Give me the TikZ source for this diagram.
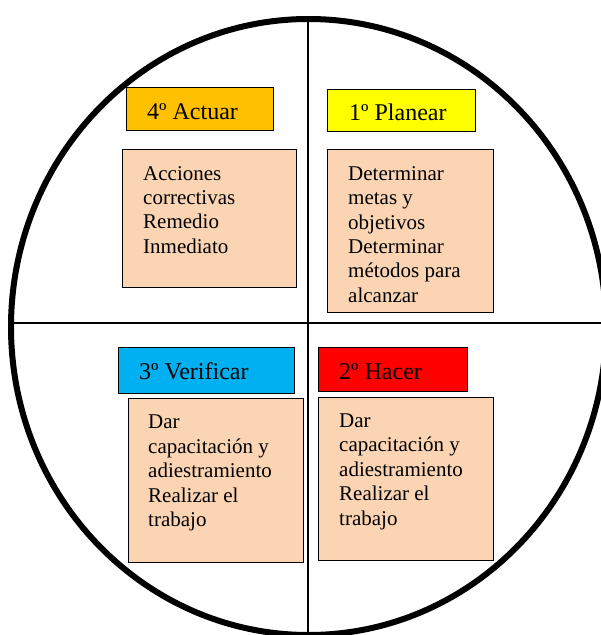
\documentclass[tikz,border=0pt]{standalone}
\usepackage{fontspec}
\setmainfont{Liberation Serif}
\definecolor{actuar}{HTML}{FFC000}
\definecolor{planear}{HTML}{FFFF00}
\definecolor{verificar}{HTML}{00B0F0}
\definecolor{hacer}{HTML}{FF0000}
\definecolor{peach}{HTML}{FBD4B4}
\tikzset{
  titlebox/.style={draw=black, line width=1pt, anchor=north west, inner sep=0pt, outer sep=0pt},
  bodybox/.style={draw=black, line width=1pt, fill=peach, anchor=north west, inner sep=0pt, outer sep=0pt},
  titletext/.style={anchor=base west, inner sep=0pt, font=\fontsize{24}{28}\selectfont},
  bodytext/.style={anchor=base west, inner sep=0pt, align=left, font=\fontsize{21}{24.4}\selectfont},
}
\begin{document}
\begin{tikzpicture}[x=1pt, y=-1pt]
\useasboundingbox (0,0) rectangle (601,635);
% circle and axes
\coordinate (c) at (308.5,327);
\coordinate (vtop) at (308,20);
\coordinate (vbot) at (308,640);
\coordinate (hleft) at (12,323);
\coordinate (hright) at (605,323);
\draw[line width=1.6pt] (vtop) -- (vbot);
\draw[line width=1.6pt] (hleft) -- (hright);
\draw[line width=6pt] (c) ellipse [x radius=297.5, y radius=308];
% quadrant 4: Actuar
\node[titlebox, fill=actuar, minimum width=147pt, minimum height=43pt] (t4) at (126,87) {};
\node[titletext] (t4txt) at (147,119.5) {4º Actuar};
\node[bodybox, minimum width=174pt, minimum height=138pt] (b4) at (122,149) {};
\node[bodytext] (b4txt) at (143,253.2) {Acciones\\correctivas\\Remedio\\Inmediato};
% quadrant 1: Planear
\node[titlebox, fill=planear, minimum width=148pt, minimum height=42pt] (t1) at (327,89) {};
\node[titletext] (t1txt) at (349,120.5) {1º Planear};
\node[bodybox, minimum width=166pt, minimum height=163pt] (b1) at (327,149) {};
\node[bodytext] (b1txt) at (348,302.3) {Determinar\\metas y\\objetivos\\Determinar\\métodos para\\alcanzar};
% quadrant 3: Verificar
\node[titlebox, fill=verificar, minimum width=176pt, minimum height=46pt] (t3) at (118,347) {};
\node[titletext] (t3txt) at (139,379.5) {3º Verificar};
\node[bodybox, minimum width=175pt, minimum height=164pt] (b3) at (128,398) {};
\node[bodytext] (b3txt) at (148,526.5) {Dar\\capacitación y\\adiestramiento\\Realizar el\\trabajo};
% quadrant 2: Hacer
\node[titlebox, fill=hacer, minimum width=149pt, minimum height=44pt] (t2) at (318,347) {};
\node[titletext] (t2txt) at (339,379.5) {2º Hacer};
\node[bodybox, minimum width=175pt, minimum height=163pt] (b2) at (318,397) {};
\node[bodytext] (b2txt) at (339,525) {Dar\\capacitación y\\adiestramiento\\Realizar el\\trabajo};
\end{tikzpicture}
\end{document}
